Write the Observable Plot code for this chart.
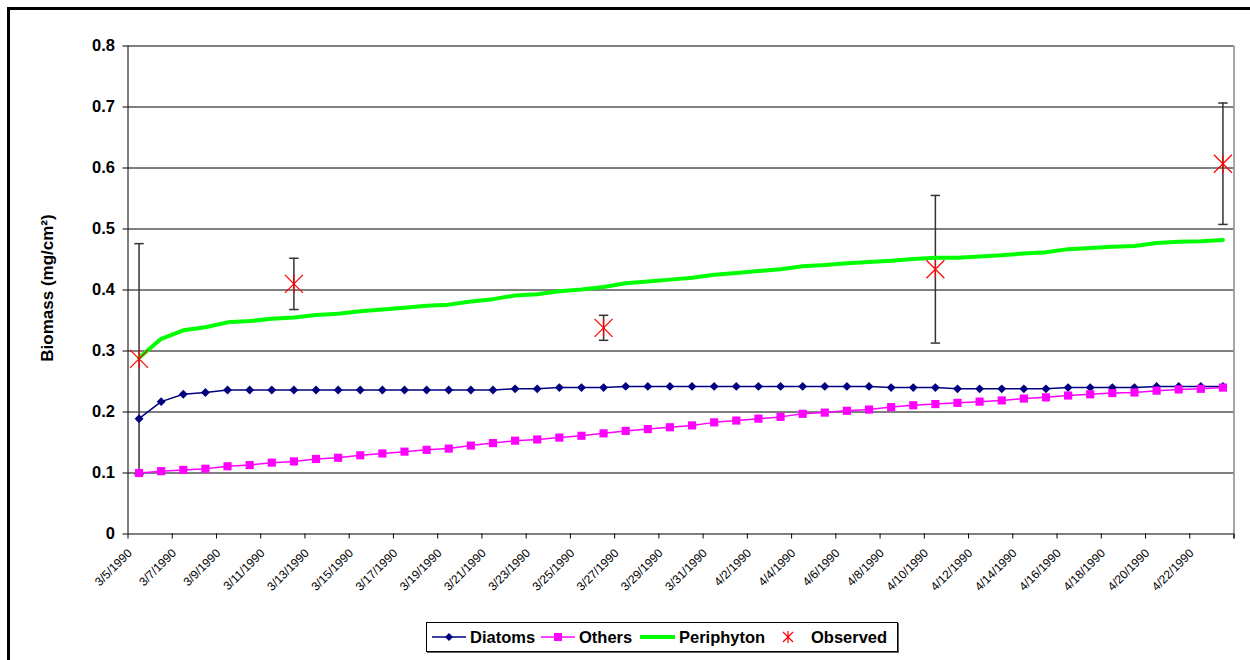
<!DOCTYPE html>
<html><head><meta charset="utf-8">
<script src="https://cdn.jsdelivr.net/npm/d3@7"></script>
<script src="https://cdn.jsdelivr.net/npm/@observablehq/plot@0.6"></script>
<style>
body{margin:0;background:#fff;font-family:"Liberation Sans",Arial,sans-serif;}
#chart{position:absolute;left:0;top:0;}
#frame{position:absolute;left:7px;top:7px;width:1300px;height:700px;border-left:3px solid #000;border-top:3px solid #000;pointer-events:none;}
#legend{position:absolute;left:426px;top:622px;width:470px;height:28px;border:1px solid #000;box-shadow:1px 1px 0 #666;background:#fff;font-weight:bold;font-size:16.5px;color:#000;}
#legend .t{position:absolute;top:5px;line-height:18px;}
#legend svg{position:absolute;top:0;left:0;}
</style></head>
<body>
<div id="chart"></div>
<div id="legend">
  <svg width="470" height="28">
    <line x1="5" x2="39" y1="14" y2="14" stroke="#000080" stroke-width="1.5"/>
    <path d="M22,10 L26,14 L22,18 L18,14 Z" fill="#000080"/>
    <line x1="114" x2="148" y1="14" y2="14" stroke="#FF00FF" stroke-width="1.5"/>
    <rect x="127" y="10" width="8" height="8" fill="#FF00FF"/>
    <line x1="213" x2="248" y1="14" y2="14" stroke="#00FF00" stroke-width="4"/>
    <path d="M356,9 L366,19 M366,9 L356,19 M361,8 L361,20" stroke="#FF0000" stroke-width="1.2" fill="none"/>
  </svg>
  <span class="t" style="left:43px">Diatoms</span>
  <span class="t" style="left:152px">Others</span>
  <span class="t" style="left:252px">Periphyton</span>
  <span class="t" style="left:384px">Observed</span>
</div>
<div id="frame"></div>
<script>
const dates = ["3/5/1990","3/6/1990","3/7/1990","3/8/1990","3/9/1990","3/10/1990","3/11/1990","3/12/1990","3/13/1990","3/14/1990",
"3/15/1990","3/16/1990","3/17/1990","3/18/1990","3/19/1990","3/20/1990","3/21/1990","3/22/1990","3/23/1990","3/24/1990",
"3/25/1990","3/26/1990","3/27/1990","3/28/1990","3/29/1990","3/30/1990","3/31/1990","4/1/1990","4/2/1990","4/3/1990",
"4/4/1990","4/5/1990","4/6/1990","4/7/1990","4/8/1990","4/9/1990","4/10/1990","4/11/1990","4/12/1990","4/13/1990",
"4/14/1990","4/15/1990","4/16/1990","4/17/1990","4/18/1990","4/19/1990","4/20/1990","4/21/1990","4/22/1990","4/23/1990"];

const diatoms = [0.189,0.217,0.229,0.232,0.236,0.236,0.236,0.236,0.236,0.236,
0.236,0.236,0.236,0.236,0.236,0.236,0.236,0.238,0.238,0.240,
0.240,0.240,0.242,0.242,0.242,0.242,0.242,0.242,0.242,0.242,
0.242,0.242,0.242,0.242,0.240,0.240,0.240,0.238,0.238,0.238,
0.238,0.238,0.240,0.240,0.240,0.240,0.242,0.242,0.242,0.242];

const others = [0.100,0.103,0.105,0.107,0.111,0.113,0.117,0.119,0.123,0.125,
0.129,0.132,0.135,0.138,0.140,0.145,0.149,0.153,0.155,0.158,
0.161,0.165,0.169,0.172,0.175,0.178,0.183,0.186,0.189,0.192,
0.197,0.199,0.202,0.204,0.208,0.211,0.213,0.215,0.217,0.219,
0.222,0.224,0.227,0.229,0.231,0.232,0.235,0.237,0.238,0.240];

const periphyton = [0.289,0.320,0.334,0.339,0.347,0.349,0.353,0.355,0.359,0.361,
0.365,0.368,0.371,0.374,0.376,0.381,0.385,0.391,0.393,0.398,
0.401,0.405,0.411,0.414,0.417,0.420,0.425,0.428,0.431,0.434,
0.439,0.441,0.444,0.446,0.448,0.451,0.453,0.453,0.455,0.457,
0.460,0.462,0.467,0.469,0.471,0.472,0.477,0.479,0.480,0.482];

const obsDates = ["3/5/1990","3/12/1990","3/26/1990","4/10/1990","4/23/1990"];
const obsMean  = [0.287,0.410,0.338,0.434,0.607];
const obsErr   = [0.189,0.042,0.0205,0.121,0.0995];

const yTicks = [0,0.1,0.2,0.3,0.4,0.5,0.6,0.7,0.8];

const series = dates.map((d,i)=>({i, date:d, diatoms:diatoms[i], others:others[i], periphyton:periphyton[i]}));
const obs = obsDates.map((d,k)=>({i:dates.indexOf(d), y:obsMean[k], lo:obsMean[k]-obsErr[k], hi:obsMean[k]+obsErr[k]}));

const xTicks = d3.range(-0.5, dates.length, 2).concat([dates.length-0.5]);
const xLabel = v => { const i = Math.round(v+0.5); return i < dates.length ? dates[i] : ""; };

const star = {draw(ctx,size){const r=Math.sqrt(size/Math.PI);ctx.moveTo(-r,-r);ctx.lineTo(r,r);ctx.moveTo(r,-r);ctx.lineTo(-r,r);ctx.moveTo(0,-r);ctx.lineTo(0,r);}};
const cap = {draw(ctx,size){const r=Math.sqrt(size/Math.PI);ctx.moveTo(-r,0);ctx.lineTo(r,0);}};

const chart = Plot.plot({
  width: 1250, height: 600,
  marginLeft: 127.5, marginRight: 16.5, marginTop: 45.5, marginBottom: 66.5,
  style: {fontFamily: "Liberation Sans, Arial, sans-serif", background: "transparent", overflow: "visible", color: "#000"},
  x: {type: "linear", domain: [-0.5, dates.length-0.5]},
  y: {domain: [0, 0.8]},
  marks: [
    Plot.ruleY(yTicks.filter(v=>v>0), {stroke: "#000", strokeWidth: 1}),
    Plot.ruleX([dates.length-0.5], {stroke: "#888", strokeWidth: 1.5}),
    Plot.ruleX([-0.5], {stroke: "#000", strokeWidth: 1}),
    Plot.ruleY([0], {stroke: "#000", strokeWidth: 1}),
    Plot.axisY({ticks: yTicks, tickFormat: v => v===0 ? "0" : v.toFixed(1), tickSize: 5, tickPadding: 8, fontSize: 16.5, fontWeight: "bold", label: null}),
    Plot.axisX({ticks: xTicks, tickFormat: () => "", tickSize: 5, label: null, stroke: "#000"}),
    Plot.axisX({ticks: xTicks, tickFormat: xLabel, tickRotate: -45, tickSize: 0, tickPadding: 17, dx: 2, fontSize: 12, fill: "#000", label: null}),
    Plot.text(["Biomass (mg/cm²)"], {frameAnchor: "left", textAnchor: "middle", rotate: -90, dx: -80, dy: -2, fontSize: 17, fontWeight: "bold"}),
    Plot.ruleX(obs, {x: "i", y1: "lo", y2: "hi", stroke: "#333", strokeWidth: 1.5}),
    Plot.dot(obs, {x: "i", y: "lo", symbol: cap, r: 4.7, stroke: "#333", strokeWidth: 1.5, fill: "none"}),
    Plot.dot(obs, {x: "i", y: "hi", symbol: cap, r: 4.7, stroke: "#333", strokeWidth: 1.5, fill: "none"}),
    Plot.line(series, {x: "i", y: "diatoms", stroke: "#000080", strokeWidth: 1.5}),
    Plot.dot(series, {x: "i", y: "diatoms", symbol: "diamond2", r: 4, fill: "#000080", stroke: "none"}),
    Plot.line(series, {x: "i", y: "others", stroke: "#FF00FF", strokeWidth: 1.5}),
    Plot.dot(series, {x: "i", y: "others", symbol: "square", r: 4.6, fill: "#FF00FF", stroke: "none"}),
    Plot.line(series, {x: "i", y: "periphyton", stroke: "#00FF00", strokeWidth: 4}),
    Plot.dot(obs, {x: "i", y: "y", symbol: star, r: 9, stroke: "#FF0000", strokeWidth: 1.2, fill: "none"})
  ]
});
document.getElementById("chart").appendChild(chart);
</script>
</body></html>
